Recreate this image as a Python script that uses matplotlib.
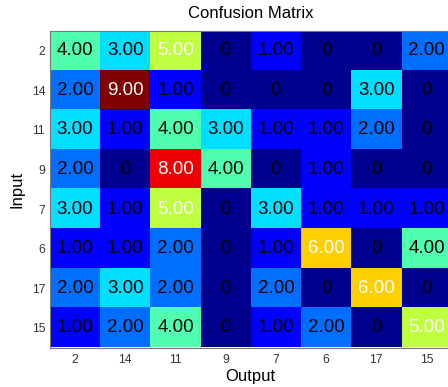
import numpy as np
import matplotlib
matplotlib.use("Agg")
import matplotlib.pyplot as plt
from matplotlib.colors import ListedColormap

# class labels (same order on both axes)
labels = ["2", "14", "11", "9", "7", "6", "17", "15"]

# confusion counts, rows = input, cols = output
row_2 = [4, 3, 5, 0, 1, 0, 0, 2]
row_14 = [2, 9, 1, 0, 0, 0, 3, 0]
row_11 = [3, 1, 4, 3, 1, 1, 2, 0]
row_9 = [2, 0, 8, 4, 0, 1, 0, 0]
row_7 = [3, 1, 5, 0, 3, 1, 1, 1]
row_6 = [1, 1, 2, 0, 1, 6, 0, 4]
row_17 = [2, 3, 2, 0, 2, 0, 6, 0]
row_15 = [1, 2, 4, 0, 1, 2, 0, 5]

cm = np.array([row_2, row_14, row_11, row_9, row_7, row_6, row_17, row_15], dtype=float)


def matlab_jet(m=64):
    # same construction as MATLAB's jet(m)
    n = int(np.ceil(m / 4))
    u = np.concatenate([np.arange(1, n + 1) / n, np.ones(n - 1), np.arange(n, 0, -1) / n])
    g = int(np.ceil(n / 2)) - (1 if m % 4 == 1 else 0) + np.arange(1, len(u) + 1)
    r = g + n
    b = g - n
    rgb = np.zeros((m, 3))
    for col, idx in ((0, r), (1, g), (2, b)):
        ok = (idx >= 1) & (idx <= m)
        rgb[idx[ok] - 1, col] = u[ok]
    return ListedColormap(rgb)


plt.rcParams['font.family'] = ['Liberation Sans', 'DejaVu Sans']

fig = plt.figure(figsize=(4.48, 3.87), dpi=100)
ax = fig.add_axes([50 / 448, 1 - 347.5 / 387, 401.6 / 448, 316.5 / 387])

ax.imshow(cm, cmap=matlab_jet(64), vmin=0, vmax=cm.max(),
          aspect='auto', interpolation='nearest')

thresh = cm.max() / 2
for i in range(cm.shape[0]):
    for j in range(cm.shape[1]):
        v = cm[i, j]
        txt = "0" if v == 0 else "%.2f" % v
        ax.text(j, i, txt, ha='center', va='center', fontsize=13.5,
                color='white' if v > thresh else 'black')

ax.set_xticks(range(len(labels)))
ax.set_xticklabels(labels)
ax.set_yticks(range(len(labels)))
ax.set_yticklabels(labels)
ax.tick_params(length=0, labelsize=8.7, labelcolor='#333333')
ax.tick_params(axis='y', pad=3.5)
ax.tick_params(axis='x', pad=5)

for s in ax.spines.values():
    s.set_color('#777777')
    s.set_linewidth(0.8)

ax.set_title("Confusion Matrix", fontsize=12, pad=9.5)
ax.set_xlabel("Output", fontsize=12, labelpad=2)
ax.set_ylabel("Input", fontsize=12, labelpad=5)

fig.savefig("out.png", dpi=100)
